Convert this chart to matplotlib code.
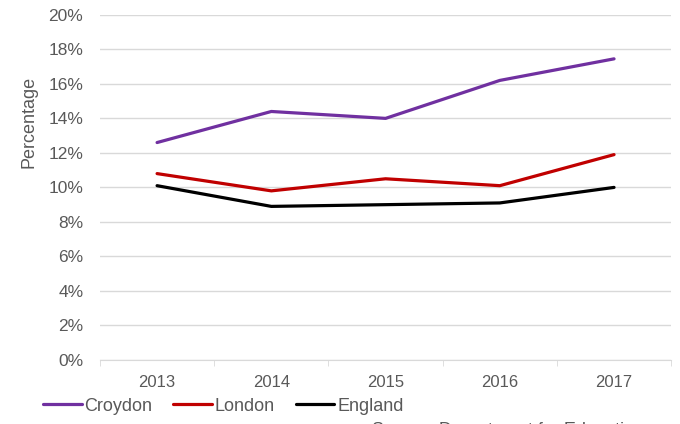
import matplotlib.pyplot as plt

years = ['2013', '2014', '2015', '2016', '2017']
croydon = [12.6, 14.4, 14.0, 16.2, 17.45]
london = [10.8, 9.8, 10.5, 10.1, 11.9]
england = [10.1, 8.9, 9.0, 9.1, 10.0]

plt.rcParams['font.family'] = ['Liberation Sans', 'DejaVu Sans']
txt = '#595959'
grid = '#D9D9D9'

fig = plt.figure(figsize=(6.8, 4.24), dpi=100)
ax = fig.add_axes([0.147, 0.151, 0.84, 0.814])

x = range(len(years))
ax.plot(x, croydon, color='#7030A0', lw=2.3, label='Croydon', solid_capstyle='round')
ax.plot(x, london, color='#C00000', lw=2.3, label='London', solid_capstyle='round')
ax.plot(x, england, color='black', lw=2.3, label='England', solid_capstyle='round')

ax.set_xlim(-0.5, 4.5)
ax.set_ylim(0, 20)
ax.set_yticks(range(0, 21, 2))
ax.set_yticklabels([f'{v}%' for v in range(0, 21, 2)])
ax.set_xticks(list(x))
ax.set_xticklabels(years)
ax.set_xticks([i - 0.5 for i in range(6)], minor=True)
ax.tick_params(axis='x', which='major', length=0, pad=11, labelsize=12, labelcolor=txt)
ax.tick_params(axis='x', which='minor', length=4, color=grid, direction='out')
ax.tick_params(axis='y', length=0, pad=12, labelsize=12.5, labelcolor=txt)
ax.grid(axis='y', color=grid, lw=1)
ax.set_axisbelow(True)
for s in ['top', 'right', 'left']:
    ax.spines[s].set_visible(False)
ax.spines['bottom'].set_color(grid)

ax.set_ylabel('Percentage', color=txt, fontsize=13)
ax.yaxis.set_label_coords(-0.11, 0.69)

leg = fig.legend(loc='center left', bbox_to_anchor=(0.063, 0.042), ncol=3, frameon=False,
                 fontsize=13, handlelength=2.15, handletextpad=0.15, columnspacing=1.15,
                 borderaxespad=0, borderpad=0)
for t in leg.get_texts():
    t.set_color(txt)

fig.text(372 / 680, -0.015, 'Source: Department for Education', color=txt, fontsize=13, va='center')

fig.savefig('out.png', dpi=100)
